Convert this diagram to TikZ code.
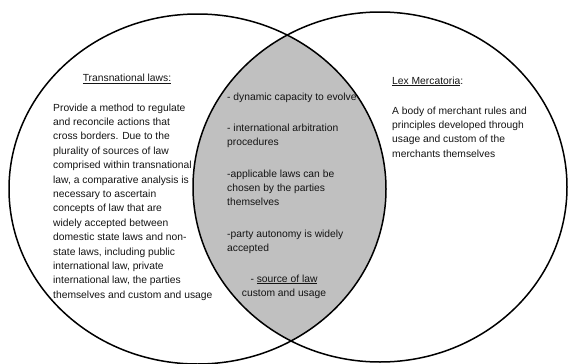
\documentclass[tikz,border=0pt]{standalone}
\usepackage{fontspec}
\setmainfont{Liberation Sans}
\definecolor{lensgray}{RGB}{192,192,192}
\definecolor{inkgray}{RGB}{20,20,20}
\begin{document}
\begin{tikzpicture}[x=1pt,y=-1pt,
  outline/.style={draw=black,line width=1.5pt},
  body/.style={inner sep=0pt,align=left,anchor=north west,text=inkgray,
    font=\fontsize{10.3}{14.4}\selectfont},
  mid/.style={body,align=center,anchor=north}]
\useasboundingbox (0,0) rectangle (568,364);
\begin{scope}
\clip (0,0) rectangle (568,364);
% overlap of the two circles
\begin{scope}
\clip (197.5,189) ellipse [x radius=188.5,y radius=175];
\fill[lensgray] (380,187) ellipse [x radius=187,y radius=175];
\end{scope}
\draw[outline] (197.5,189) ellipse [x radius=188.5,y radius=175];
\draw[outline] (380,187) ellipse [x radius=187,y radius=175];
\end{scope}

% left circle
\node[body,anchor=north] (ttitle) at (127,74) {\underline{Transnational laws:}};
\node[body] (ttext) at (53,103.5) {Provide a method to regulate\\
and reconcile actions that\\
cross borders. Due to the\\
plurality of sources of law\\
comprised within transnational\\
law, a comparative analysis is\\
necessary to ascertain\\
concepts of law that are\\
widely accepted between\\
domestic state laws and non-\\
state laws, including public\\
international law, private\\
international law, the parties\\
themselves and custom and usage};

% shared features
\node[body] (m1) at (227,92.5) {- dynamic capacity to evolve};
\node[body] (m2) at (227,123.5) {- international arbitration\\procedures};
\node[body] (m3) at (227,169.5) {-applicable laws can be\\chosen by the parties\\themselves};
\node[body] (m4) at (227,229.5) {-party autonomy is widely\\accepted};
\node[mid] (m5) at (284,274.5) {- \underline{source of law}\\custom and usage};

% right circle
\node[body] (ltitle) at (392,76.5) {\underline{Lex Mercatoria}:};
\node[body] (ltext) at (392,106.5) {A body of merchant rules and\\
principles developed through\\
usage and custom of the\\
merchants themselves};
\end{tikzpicture}
\end{document}
